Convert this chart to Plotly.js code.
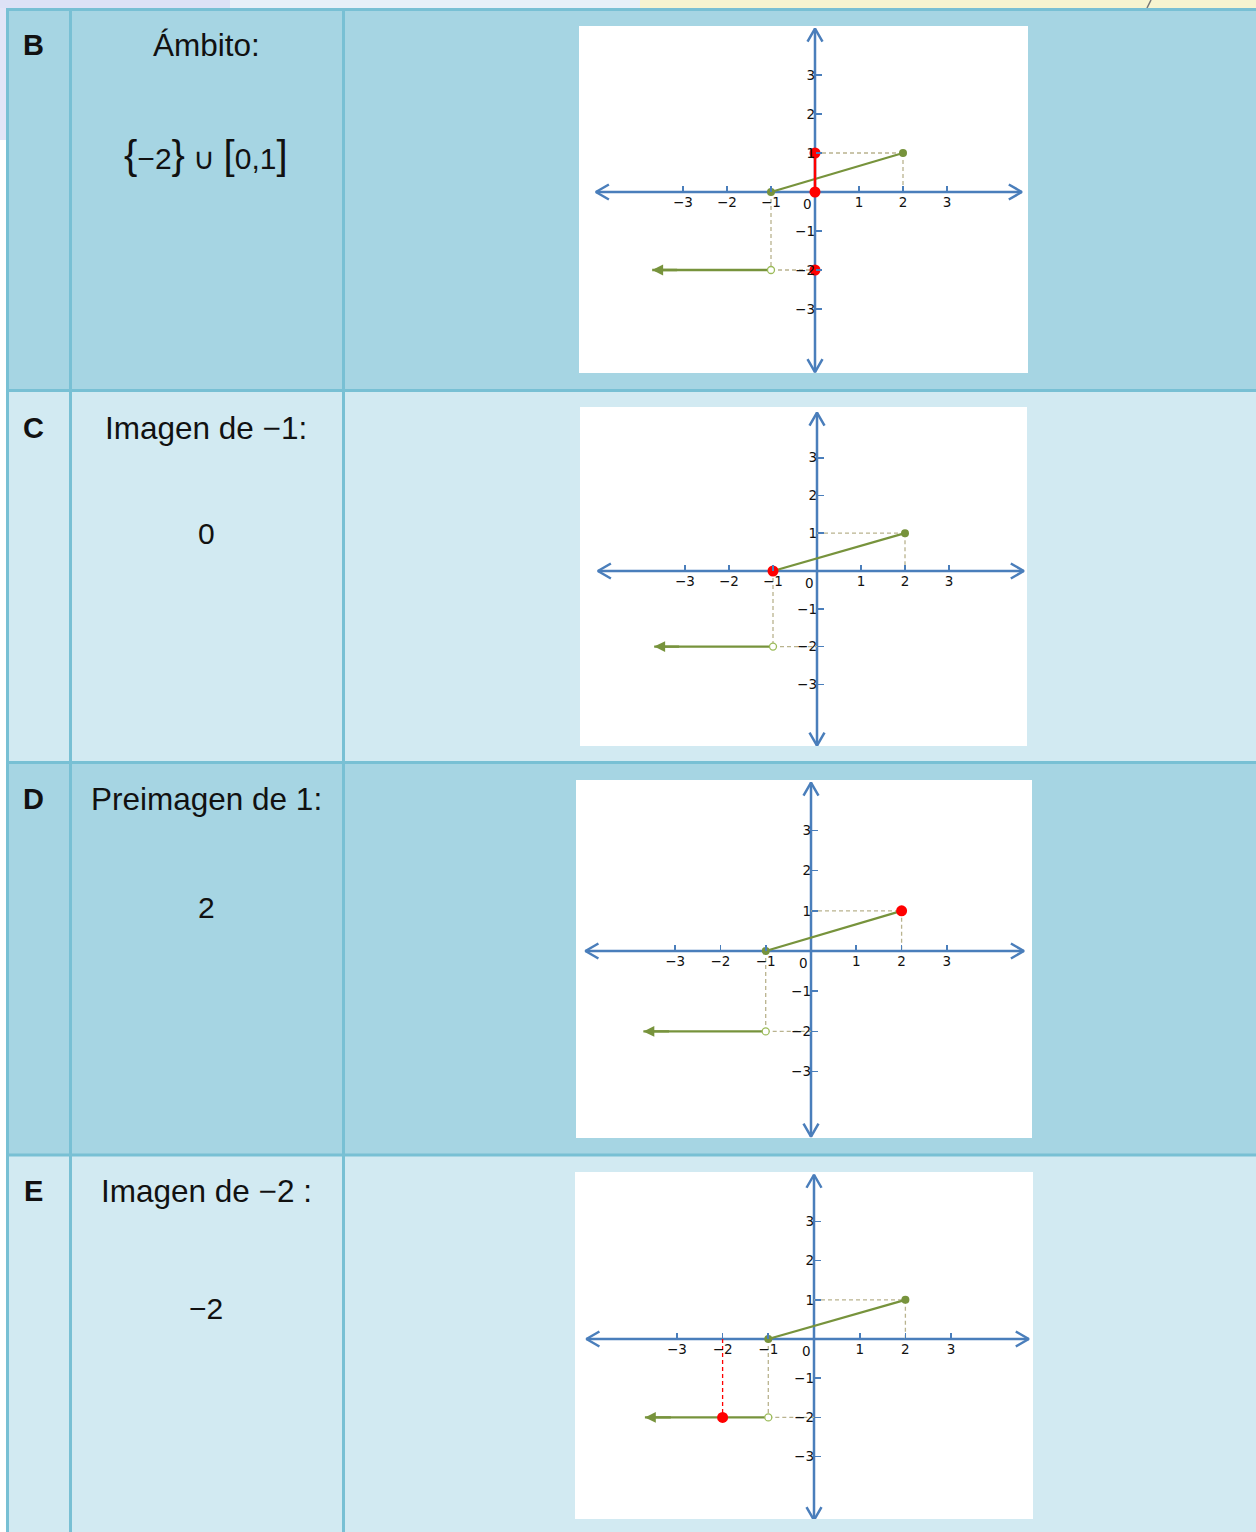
<!DOCTYPE html>
<html><head><meta charset="utf-8">
<script src="https://cdn.plot.ly/plotly-3.0.1.min.js"></script>
<style>html,body{margin:0;padding:0;background:#fff;}#chart{width:1256px;height:1532px;}</style>
</head><body><div id="chart"></div>
<script>
// ---------- data ----------
const rowLetters   = ['B', 'C', 'D', 'E'];
const rowQuestions = ['Ámbito:', 'Imagen de −1:', 'Preimagen de 1:', 'Imagen de −2 :'];
const BR = s => '<span style="font-size:40px">' + s + '</span>';
const rowAnswers   = [BR('{') + '−2' + BR('}') + ' ∪ ' + BR('[') + '0,1' + BR(']'), '0', '2', '−2'];

const tickValues = [-3, -2, -1, 1, 2, 3];
const tickLabels = ['−3', '−2', '−1', '1', '2', '3'];

// piecewise function: segment from (-1,0) to (2,1), ray y=-2 for x<-1
const segX = [-1, 2],      segY = [0, 1];
const rayX = [-1, -3.7],   rayY = [-2, -2];
const closedX = [-1, 2],   closedY = [0, 1];
const openX = [-1],        openY = [-2];
const guideX = [-1, -1, null, -1, 0, null, 0, 2, null, 2, 2];
const guideY = [0, -2, null, -2, -2, null, 1, 1, null, 1, 0];

// axis extents (data units)
const axisXL = -4.98, axisXR = 4.70, axisYB = -4.62, axisYT = 4.19;

// red highlights per row
const hlPointsX = [[0, 0, 0], [-1], [2], [-2]];
const hlPointsY = [[1, 0, -2], [0], [1], [-2]];
const hlSegX = [[0, 0], [], [], []];
const hlSegY = [[0, 1], [], [], []];
const hlDashX = [[], [], [], [-2, -2]];
const hlDashY = [[], [], [], [0, -2]];

// ---------- layout geometry (pixels) ----------
const W = 1256, H = 1532;
const panelBox    = [[579,1028,26,373],[580,1027,407,746],[576,1032,780,1138],[575,1033,1172,1519]];
const panelOrigin = [[815,192],[817,571],[811,951],[814,1339]];
const panelScale  = [[44,39],[44,37.8],[45.3,40.2],[45.7,39.2]];
const rowTops = [9.5, 390.5, 762.5, 1155, 1532];
const rowColors = ['#a6d5e3', '#d2eaf2', '#a6d5e3', '#d2eaf2'];
const letterY = [45, 428, 799, 1191];
const answerY = [155, 533, 907, 1308];

const BLUE = '#4a7ebb', GREEN = '#77933c', TAN = '#b9b38e', RED = '#ff0000', BORDER = '#78c0d4';
const px = v => v / W, py = v => 1 - v / H;

const traces = [], shapes = [], annotations = [];
const layout = {
  width: W, height: H, margin: {l:0, r:0, t:0, b:0},
  paper_bgcolor: '#ffffff', plot_bgcolor: 'rgba(0,0,0,0)',
  showlegend: false, shapes, annotations
};

// page decorations
shapes.push({type:'rect', xref:'paper', yref:'paper', x0:0, x1:px(230), y0:py(0), y1:py(8.5), fillcolor:'#dde2f6', line:{width:0}, layer:'below'});
shapes.push({type:'rect', xref:'paper', yref:'paper', x0:px(230), x1:px(640), y0:py(0), y1:py(8.5), fillcolor:'#e6f0f8', line:{width:0}, layer:'below'});
shapes.push({type:'rect', xref:'paper', yref:'paper', x0:px(640), x1:1, y0:py(0), y1:py(8.5), fillcolor:'#f6f4d0', line:{width:0}, layer:'below'});
shapes.push({type:'rect', xref:'paper', yref:'paper', x0:0, x1:px(6), y0:py(8), y1:py(140), fillcolor:'#e2e5f7', line:{width:0}, layer:'below'});
shapes.push({type:'line', xref:'paper', yref:'paper', x0:px(1147), x1:px(1151), y0:py(8), y1:py(0), line:{color:'#777', width:1.5}, layer:'below'});

// table rows
for (let i = 0; i < 4; i++) {
  shapes.push({type:'rect', xref:'paper', yref:'paper', x0:px(7), x1:1, y0:py(rowTops[i]), y1:py(rowTops[i+1]),
    fillcolor: rowColors[i], line:{width:0}, layer:'below'});
}
// borders
[9.5, 390.5, 762.5, 1155].forEach(y => shapes.push({type:'line', xref:'paper', yref:'paper', x0:px(6), x1:1, y0:py(y), y1:py(y), line:{color:BORDER, width:3}, layer:'below'}));
[7.5, 70.5, 343.5].forEach(x => shapes.push({type:'line', xref:'paper', yref:'paper', x0:px(x), x1:px(x), y0:py(8), y1:0, line:{color:BORDER, width:3}, layer:'below'}));

// text cells
for (let i = 0; i < 4; i++) {
  annotations.push({xref:'paper', yref:'paper', x:px(33), y:py(letterY[i]), text:'<b>'+rowLetters[i]+'</b>', showarrow:false,
    xanchor:'center', yanchor:'middle', font:{family:'Liberation Sans, Arial, sans-serif', size:29, color:'#111'}});
  annotations.push({xref:'paper', yref:'paper', x:px(206), y:py(letterY[i]), text:rowQuestions[i], showarrow:false,
    xanchor:'center', yanchor:'middle', font:{family:'Liberation Sans, Arial, sans-serif', size:31.5, color:'#111'}});
  annotations.push({xref:'paper', yref:'paper', x:px(206), y:py(answerY[i]), text:rowAnswers[i], showarrow:false,
    xanchor:'center', yanchor:'middle', font:{family:'Liberation Sans, Arial, sans-serif', size:30, color:'#111'}});
}

// graph panels
for (let i = 0; i < 4; i++) {
  const n = i + 1, xa = 'x' + (n === 1 ? '' : n), ya = 'y' + (n === 1 ? '' : n);
  const xk = 'xaxis' + (n === 1 ? '' : n), yk = 'yaxis' + (n === 1 ? '' : n);
  const [bx0, bx1, by0, by1] = panelBox[i];
  const [ox, oy] = panelOrigin[i];
  const [sx, sy] = panelScale[i];

  // white panel
  shapes.push({type:'rect', xref:'paper', yref:'paper', x0:px(bx0), x1:px(bx1), y0:py(by1), y1:py(by0), fillcolor:'#ffffff', line:{width:0}, layer:'below'});

  const tickfont = {family:'DejaVu Sans, Verdana, sans-serif', size:13.5, color:'#111'};
  layout[xk] = {domain:[px(bx0), px(bx1)], range:[(bx0-ox)/sx, (bx1-ox)/sx], anchor:'free', position: 1 - oy/H,
    showgrid:false, zeroline:false, showline:false, ticks:'inside', ticklen:6, tickwidth:1.8, tickcolor:BLUE,
    tickvals:tickValues, ticktext:tickLabels, tickfont:{...tickfont}, fixedrange:true};
  layout[yk] = {domain:[py(by1), py(by0)], range:[(oy-by1)/sy, (oy-by0)/sy], anchor:'free', position: ox/W,
    showgrid:false, zeroline:false, showline:false, ticks:'inside', ticklen:6, tickwidth:1.8, tickcolor:BLUE,
    tickvals:tickValues, ticktext:tickLabels, tickfont:{...tickfont}, fixedrange:true};

  annotations.push({xref:xa, yref:ya, x:0, y:0, text:'0', showarrow:false, xanchor:'right', yanchor:'top', xshift:-1, yshift:-2, font:{...tickfont}});

  // axes with open arrowheads
  const ax = 13 / sx, ay = 7.5 / sy, bx = 7.5 / sx, by = 13 / sy;
  traces.push({x:[axisXL, axisXR, null, axisXR-ax, axisXR, axisXR-ax, null, axisXL+ax, axisXL, axisXL+ax],
               y:[0, 0, null, ay, 0, -ay, null, ay, 0, -ay],
               xaxis:xa, yaxis:ya, mode:'lines', line:{color:BLUE, width:2.5}, hoverinfo:'skip'});
  traces.push({x:[0, 0, null, -bx, 0, bx, null, -bx, 0, bx],
               y:[axisYB, axisYT, null, axisYT-by, axisYT, axisYT-by, null, axisYB+by, axisYB, axisYB+by],
               xaxis:xa, yaxis:ya, mode:'lines', line:{color:BLUE, width:2.5}, hoverinfo:'skip'});

  // dashed guides
  traces.push({x:guideX, y:guideY, xaxis:xa, yaxis:ya, mode:'lines', line:{color:TAN, width:1.3, dash:'4px,3px'}, hoverinfo:'skip'});
  if (hlDashX[i].length) traces.push({x:hlDashX[i], y:hlDashY[i], xaxis:xa, yaxis:ya, mode:'lines', line:{color:RED, width:1.3, dash:'4px,3px'}, hoverinfo:'skip'});

  // function graph
  traces.push({x:segX, y:segY, xaxis:xa, yaxis:ya, mode:'lines', line:{color:GREEN, width:2.3}, hoverinfo:'skip'});
  traces.push({x:rayX, y:rayY, xaxis:xa, yaxis:ya, mode:'lines', line:{color:GREEN, width:2.3}, hoverinfo:'skip'});
  // arrowhead at the open end of the ray
  annotations.push({xref:xa, yref:ya, axref:xa, ayref:ya, x:rayX[1], y:rayY[1], ax:rayX[1] + 0.6, ay:rayY[1],
    text:'', showarrow:true, arrowhead:2, arrowsize:0.95, arrowwidth:2.3, arrowcolor:GREEN});
  traces.push({x:closedX, y:closedY, xaxis:xa, yaxis:ya, mode:'markers', marker:{size:8, color:GREEN}, hoverinfo:'skip'});
  traces.push({x:openX, y:openY, xaxis:xa, yaxis:ya, mode:'markers', marker:{size:7, color:'#ffffff', line:{color:'#9bbb59', width:1.3}}, hoverinfo:'skip'});

  // red highlights
  if (hlSegX[i].length) traces.push({x:hlSegX[i], y:hlSegY[i], xaxis:xa, yaxis:ya, mode:'lines', line:{color:RED, width:2.5}, hoverinfo:'skip'});
  traces.push({x:hlPointsX[i], y:hlPointsY[i], xaxis:xa, yaxis:ya, mode:'markers', marker:{size:11, color:RED}, hoverinfo:'skip'});
}

Plotly.newPlot('chart', traces, layout, {displayModeBar:false, staticPlot:true});
</script>
</body></html>
